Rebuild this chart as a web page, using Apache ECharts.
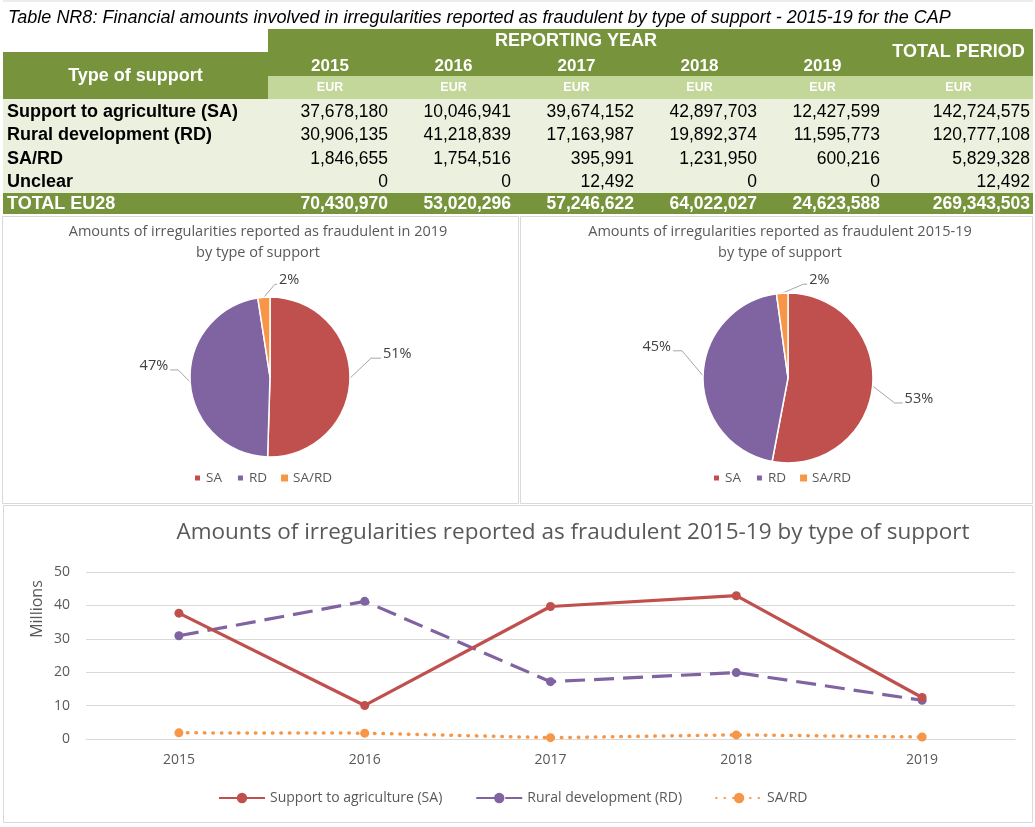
<!DOCTYPE html>
<html><head><meta charset="utf-8">
<script src="https://cdn.jsdelivr.net/npm/echarts@6/dist/echarts.min.js"></script>
<style>html,body{margin:0;padding:0;background:#fff}#c{width:1035px;height:827px}</style>
</head><body><div id="c"></div><script>
// ---- data ----
const years = ['2015','2016','2017','2018','2019'];
const rowLabels = ['Support to agriculture (SA)','Rural development (RD)','SA/RD','Unclear'];
const saValues = [37678180,10046941,39674152,42897703,12427599];
const rdValues = [30906135,41218839,17163987,19892374,11595773];
const sardValues = [1846655,1754516,395991,1231950,600216];
const unclearValues = [0,0,12492,0,0];
const periodTotals = [142724575,120777108,5829328,12492];
const yearTotals = [70430970,53020296,57246622,64022027,24623588];
const grandTotal = 269343503;
const pieNames = ['SA','RD','SA/RD'];
const lineNames = ['Support to agriculture (SA)','Rural development (RD)','SA/RD'];
const yTicks = [0,10,20,30,40,50];

const tableTitle = 'Table NR8: Financial amounts involved in irregularities reported as fraudulent by type of support - 2015-19 for the CAP';
const pieTitle1 = 'Amounts of irregularities reported as fraudulent in 2019\nby type of support';
const pieTitle2 = 'Amounts of irregularities reported as fraudulent 2015-19\nby type of support';
const lineTitle = 'Amounts of irregularities reported as fraudulent 2015-19 by type of support';

// ---- table drawing ----
const fmt = v => v.toLocaleString('en-US');
const colX = [3,268,392,515,638,761,884,1033];
const G_DARK = '#77933c', G_LIGHT = '#c4d79b', G_BG = '#ebf1de';
const AR = '"Liberation Sans", Arial, sans-serif';
const CF = '"Open Sans", Lato, sans-serif';
const graphics = [];
function rect(x, y, w, h, fill, stroke) {
  graphics.push({type:'rect', silent:true, shape:{x, y, width:w, height:h},
    style: stroke ? {fill:'none', stroke, lineWidth:1} : {fill}});
}
function txt(t, x, y, font, fill, align, rot) {
  graphics.push({type:'text', silent:true, x, y, rotation: rot || 0,
    style:{text:t, font, fill, align:align||'left', verticalAlign:'middle'}});
}
const rowsTop = 99, rowH = 23.5;
rect(0, 0, 1035, 827, '#fff');
graphics.push({type:'line', silent:true, shape:{x1:3,y1:1,x2:1033,y2:1}, style:{stroke:'#d9d9d9', lineWidth:1}});
txt(tableTitle, 8, 18, 'italic 18px ' + AR, '#000');
rect(colX[1], 29, colX[7]-colX[1], 47, G_DARK);
rect(colX[0], 52, colX[1]-colX[0], 47, G_DARK);
rect(colX[1], 76, colX[7]-colX[1], 23, G_LIGHT);
rect(colX[0], rowsTop, colX[7]-colX[0], rowH*4, G_BG);
rect(colX[0], rowsTop+rowH*4, colX[7]-colX[0], 21, G_DARK);
const B18 = 'bold 18px ' + AR, B17 = 'bold 17px ' + AR, N17 = '17.5px ' + AR, BN = 'bold 17.5px ' + AR;
txt('Type of support', (colX[0]+colX[1])/2, 76, B18, '#fff', 'center');
txt('REPORTING YEAR', (colX[1]+colX[6])/2, 41, B18, '#fff', 'center');
txt('TOTAL PERIOD', (colX[6]+colX[7])/2, 52, B18, '#fff', 'center');
years.forEach((y, i) => txt(y, (colX[i+1]+colX[i+2])/2, 66, B17, '#fff', 'center'));
for (let i = 1; i < 7; i++) txt('EUR', (colX[i]+colX[i+1])/2, 88, 'bold 12.5px ' + AR, '#fff', 'center');
const rowData = [saValues, rdValues, sardValues, unclearValues];
rowLabels.forEach((lab, r) => {
  const cy = rowsTop + rowH*r + rowH/2 + 1;
  txt(lab, 7, cy, B18, '#000');
  rowData[r].forEach((v, i) => txt(fmt(v), colX[i+2]-4, cy, N17, '#000', 'right'));
  txt(fmt(periodTotals[r]), colX[7]-3, cy, N17, '#000', 'right');
});
const ty = rowsTop + rowH*4 + 11;
txt('TOTAL EU28', 7, ty, B18, '#fff');
yearTotals.forEach((v, i) => txt(fmt(v), colX[i+2]-4, ty, BN, '#fff', 'right'));
txt(fmt(grandTotal), colX[7]-3, ty, BN, '#fff', 'right');
// panel borders
rect(2.5, 216.5, 516, 287, null, '#d9d9d9');
rect(520.5, 216.5, 512, 287, null, '#d9d9d9');
rect(3.5, 505.5, 1029, 317, null, '#d9d9d9');
// y axis name of the line chart
txt('Millions', 37, 609, '16px ' + CF, '#595959', 'center', Math.PI/2);

// ---- charts ----
const COLORS = ['#c0504d', '#8064a2', '#f79646'];
const pie2019Values = [saValues[4], rdValues[4], sardValues[4]];
const piePeriodValues = periodTotals.slice(0, 3);
const pieGeom = [{center:[270, 377], radius:80}, {center:[788, 378], radius:85}];
// label leader geometry per slice: [dx, dy, horizontal run]
const leaderGeom = [
  [[21,-20,10],[-12,-12,-8],[11,-13,2]],
  [[22,17,8],[-21,-25,-9],[21,-9,4]]
];
function makeLayout(pi, values) {
  const total = values.reduce((a, b) => a + b, 0);
  const c = pieGeom[pi].center, r = pieGeom[pi].radius;
  return function (params) {
    const i = params.dataIndex;
    let cum = 0;
    for (let k = 0; k < i; k++) cum += values[k];
    const ang = Math.PI/2 - (cum + values[i]/2) / total * 2 * Math.PI;
    const p0 = [c[0] + r*Math.cos(ang), c[1] - r*Math.sin(ang)];
    const g = leaderGeom[pi][i];
    const p1 = [p0[0] + g[0], p0[1] + g[1]];
    const p2 = [p1[0] + g[2], p1[1]];
    const right = g[2] >= 0;
    return {x: p2[0] + (right ? 2 : -2), y: p2[1] - 4, align: right ? 'left' : 'right',
            verticalAlign:'middle', labelLinePoints:[p0, p1, p2]};
  };
}
function pieSeries(pi, values, name) {
  return {
    name, type:'pie', startAngle:90, clockwise:true, animation:false,
    center: pieGeom[pi].center, radius: pieGeom[pi].radius,
    percentPrecision:0, avoidLabelOverlap:false,
    data: pieNames.map((n, i) => ({name:n, value:values[i]})),
    itemStyle:{borderColor:'#fff', borderWidth:1.5},
    label:{show:true, formatter:'{d}%', color:'#404040', fontSize:14.5, fontFamily:CF},
    labelLine:{show:true, lineStyle:{color:'#a6a6a6', width:1}},
    labelLayout: makeLayout(pi, values),
    emphasis:{disabled:true}
  };
}
const toM = v => v / 1e6;
const lineData = [saValues.map(toM), rdValues.map(toM), sardValues.map(toM)];
const lineStyles = [
  {width:3.2, type:'solid'},
  {width:3.2, type:[20, 9]},
  {width:3.5, type:[0.5, 8], cap:'round'}
];

const chart = echarts.init(document.getElementById('c'), null, {renderer:'canvas'});
chart.setOption({
  animation:false,
  color: COLORS,
  graphic: graphics,
  title: [
    {text:pieTitle1, left:253, top:216, textAlign:'center',
     textStyle:{fontSize:14.5, fontWeight:'normal', color:'#595959', lineHeight:21, fontFamily:CF}},
    {text:pieTitle2, left:775, top:216, textAlign:'center',
     textStyle:{fontSize:14.5, fontWeight:'normal', color:'#595959', lineHeight:21, fontFamily:CF}},
    {text:lineTitle, left:568, top:516, textAlign:'center',
     textStyle:{fontSize:22.5, fontWeight:'normal', color:'#595959', fontFamily:CF}}
  ],
  legend: [
    {data:pieNames, left:193, top:471, padding:0, icon:'rect', itemWidth:7, itemHeight:7, itemGap:14,
     textStyle:{fontSize:13.5, color:'#595959', fontFamily:CF}, selectedMode:false},
    {data:pieNames, left:712, top:471, padding:0, icon:'rect', itemWidth:7, itemHeight:7, itemGap:14,
     textStyle:{fontSize:13.5, color:'#595959', fontFamily:CF}, selectedMode:false},
    {data:lineNames, left:218, top:791, padding:0, itemWidth:46, itemHeight:13, itemGap:33,
     textStyle:{fontSize:14, color:'#595959', fontFamily:CF}, selectedMode:false}
  ],
  grid: {left:86, right:20, top:572, bottom:88, containLabel:false},
  xAxis: {type:'category', data:years, boundaryGap:true,
    axisLine:{lineStyle:{color:'#d9d9d9'}}, axisTick:{show:false},
    axisLabel:{color:'#595959', fontSize:14, fontFamily:CF, margin:14}},
  yAxis: {type:'value', min:yTicks[0], max:yTicks[yTicks.length-1], interval:yTicks[1]-yTicks[0],
    axisLine:{show:false}, axisTick:{show:false},
    axisLabel:{color:'#595959', fontSize:14, fontFamily:CF, margin:16},
    splitLine:{lineStyle:{color:'#d9d9d9', width:1}}},
  series: [
    pieSeries(0, pie2019Values, 'pie2019'),
    pieSeries(1, piePeriodValues, 'piePeriod'),
    ...lineNames.map((n, i) => ({
      name:n, type:'line', data:lineData[i], symbol:'circle', symbolSize:9,
      itemStyle:{color:COLORS[i]}, lineStyle:Object.assign({color:COLORS[i]}, lineStyles[i]),
      emphasis:{disabled:true}, z: 3 - i
    }))
  ]
});
</script></body></html>
